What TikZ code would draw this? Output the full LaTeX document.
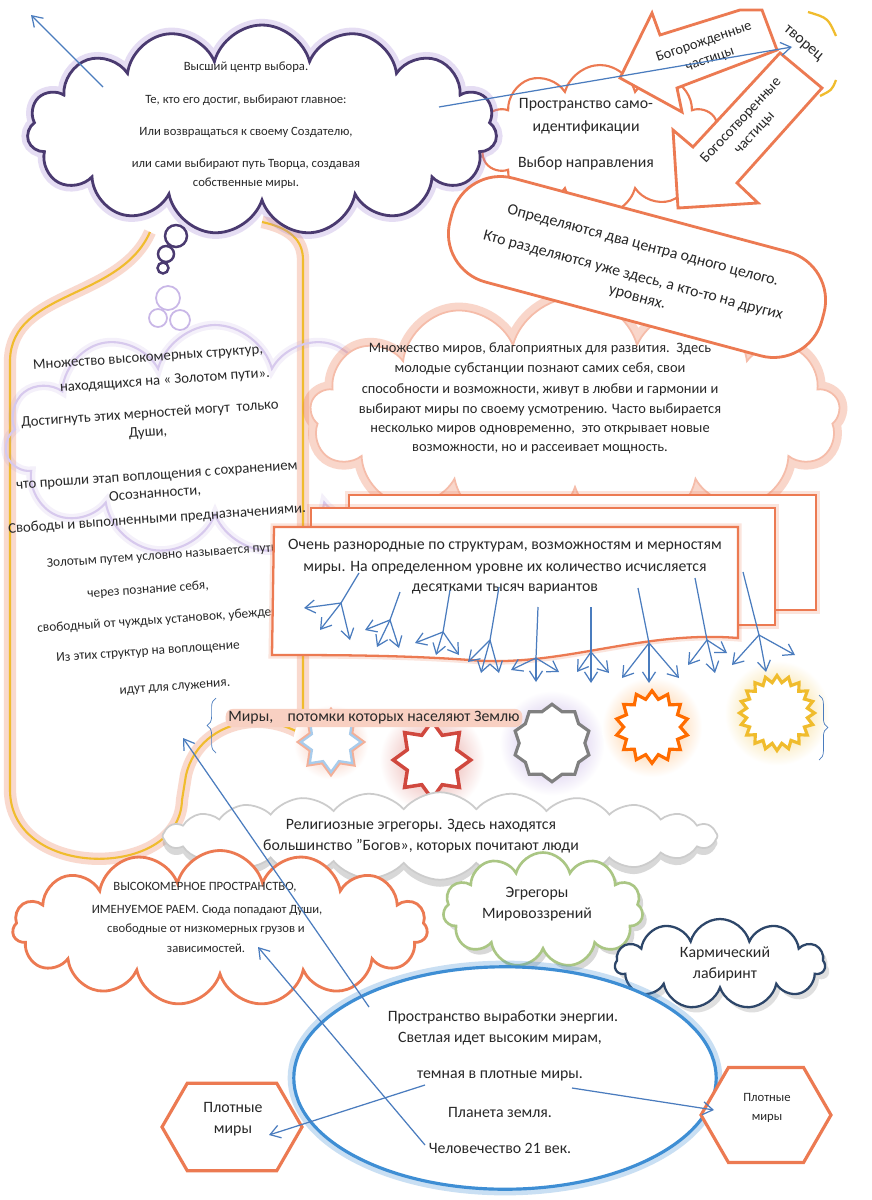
\documentclass[tikz,border=0pt]{standalone}
\usepackage{fontspec}
\setmainfont{Carlito}
\usetikzlibrary{shapes.symbols,shapes.geometric,arrows.meta,shadows,decorations.pathreplacing}

\definecolor{naranja}{RGB}{236,122,82}
\definecolor{morado}{RGB}{74,58,112}
\definecolor{lila}{RGB}{165,135,215}
\definecolor{amarillo}{RGB}{240,188,45}
\definecolor{azul}{RGB}{74,124,190}
\definecolor{celeste}{RGB}{62,142,212}
\definecolor{verde}{RGB}{170,198,132}
\definecolor{marino}{RGB}{45,70,105}
\definecolor{rojo}{RGB}{208,72,62}
\definecolor{tinta}{RGB}{40,40,40}

\tikzset{
  glow/.style={preaction={draw=#1,line width=7pt,opacity=.28}},
  nube/.style={cloud, cloud ignores aspect, fill=white},
  txt/.style={inner sep=0pt, align=center, text=tinta, font=\fontsize{9}{11}\selectfont},
  chico/.style={txt, font=\fontsize{7.2}{8.5}\selectfont},
  izq/.style={txt, rotate=4, font=\fontsize{8.4}{10}\selectfont},
  flecha/.style={azul, line width=.7pt},
  bloque/.style={draw=naranja, line width=1.6pt, fill=white, line join=miter},
  hexa/.style={signal, signal to=east and west, signal pointer angle=120,
               draw=naranja, line width=1.8pt, fill=white},
}

\begin{document}
\begin{tikzpicture}[x=0.02cm, y=-0.02cm, >={Straight Barb[length=2mm,width=2.6mm]}]
    %marco
    \fill[white] (0,0) rectangle (872,1200);
    \useasboundingbox (0,0) rectangle (872,1200);

    %%%% tubo amarillo
    \draw[amarillo, line width=1.2pt, glow=naranja] (150,232) .. controls (120,300) and (12,290) .. (10,360) -- (10,790)
        .. controls (10,880) and (180,880) .. (182,800) -- (186,775)
        .. controls (200,715) and (285,700) .. (330,760);
    \draw[amarillo, line width=1.2pt, glow=naranja] (262,222) .. controls (290,228) and (303,240) .. (303,260) -- (303,722);

    %%%% nube lila (izquierda)
    \node[cloud, cloud ignores aspect, cloud puffs=11, draw=lila!45, line width=1.2pt,
          preaction={draw=lila, line width=5pt, opacity=.12},
          minimum width=8.4cm, minimum height=4.6cm] (lila) at (215,440) {};
    \draw[lila!60, line width=1pt] (168,298) circle (0.24cm);
    \draw[lila!60, line width=1pt] (180,320) circle (0.2cm);
    \draw[lila!60, line width=1pt] (158,318) circle (0.18cm);

    %textos de la izquierda
    \node[izq] (l1) at (148,358) {Множество высокомерных структур,};
    \node[izq] (l2) at (165,381) {находящихся на « Золотом пути».};
    \node[izq] (l3) at (150,414) {Достигнуть этих мерностей могут\ \ только};
    \node[izq] (l4) at (148,433) {Души,};
    \node[izq] (l5) at (157,477) {что прошли этап воплощения с сохранением};
    \node[izq] (l6) at (155,494) {Осознанности,};
    \node[izq] (l7) at (157,519) {Свободы и выполненными предназначениями.};
    \node[izq, font=\fontsize{7.6}{9}\selectfont] (l8) at (162,556) {Золотым путем условно называется путь};
    \node[izq, font=\fontsize{7.6}{9}\selectfont] (l9) at (148,590) {через познание себя,};
    \node[izq, font=\fontsize{7.6}{9}\selectfont] (l10) at (165,620) {свободный от чуждых установок, убеждений};
    \node[izq, font=\fontsize{7.6}{9}\selectfont] (l11) at (148,652) {Из этих структур на воплощение};
    \node[izq, font=\fontsize{7.6}{9}\selectfont] (l12) at (175,688) {идут для служения.};

    %%%% nube grande naranja
    \node[nube, cloud puffs=13, draw=naranja!50, line width=1pt, preaction={draw=naranja, line width=9pt, opacity=.3},
          minimum width=10.6cm, minimum height=4.7cm] (miros) at (575,415) {};
    \node[chico, font=\fontsize{8.2}{10}\selectfont] (m1) at (540,349) {Множество миров, благоприятных для развития.\ \ Здесь};
    \node[chico, font=\fontsize{8.2}{10}\selectfont] (m2) at (540,369) {молодые субстанции познают самих себя, свои};
    \node[chico, font=\fontsize{8.2}{10}\selectfont] (m3) at (540,390) {способности и возможности, живут в любви и гармонии и};
    \node[chico, font=\fontsize{8.2}{10}\selectfont] (m4) at (540,410) {выбирают миры по своему усмотрению. Часто выбирается};
    \node[chico, font=\fontsize{8.2}{10}\selectfont] (m5) at (540,430) {несколько миров одновременно,\ \ это открывает новые};
    \node[chico, font=\fontsize{8.2}{10}\selectfont] (m6) at (540,449) {возможности, но и рассеивает мощность.};

    %%%% rectangulos
    \draw[bloque, line width=1.3pt, preaction={draw=naranja, line width=4pt, opacity=.2}] (349,495) rectangle (816,610);
    \draw[bloque, line width=1.3pt, preaction={draw=naranja, line width=4pt, opacity=.2}] (311,508) rectangle (775,625);
    \draw[bloque, line width=1.3pt, preaction={draw=naranja, line width=4pt, opacity=.2}] (274,527) -- (738,527) -- (738,638)
        .. controls (640,630) and (560,668) .. (470,660) .. controls (400,655) and (330,655) .. (272,655) -- cycle;
    \node[txt] (r1) at (505,546) {Очень разнородные по структурам, возможностям и мерностям};
    \node[txt] (r2) at (505,568) {миры. На определенном уровне их количество исчисляется};
    \node[txt] (r3) at (505,589) {десятками тысяч вариантов};

    %%%% estrellas
    \shade[inner color=naranja!55, outer color=white] (331,742) circle (0.75cm);
    \node[star, star points=8, star point ratio=1.45, minimum size=1.2cm, draw=celeste!45, line width=1.3pt,
          fill=white, preaction={draw=naranja!60, line width=3.5pt}] (mir1) at (331,742) {};
    \shade[inner color=rojo!55, outer color=white] (432,760) circle (1.05cm);
    \node[star, star points=8, star point ratio=1.45, minimum size=1.55cm, draw=rojo, line width=2pt, fill=white] (mir2) at (432,760) {};
    \shade[inner color=lila!70, outer color=white] (552,743) circle (1.05cm);
    \node[star, star points=10, star point ratio=1.18, minimum size=1.55cm, draw=gray, line width=1.8pt, fill=white] (mir3) at (552,743) {};
    \shade[inner color=orange!55, outer color=white] (652,727) circle (1cm);
    \node[star, star points=14, star point ratio=1.28, minimum size=1.45cm, draw=orange!85!red, line width=1.8pt, fill=white] (mir4) at (652,727) {};
    \shade[inner color=amarillo!70, outer color=white] (777,713) circle (1.05cm);
    \node[star, star points=20, star point ratio=1.22, minimum size=1.5cm, draw=amarillo, line width=1.8pt, fill=white] (mir5) at (777,713) {};

    %ramas
    \foreach \sx/\sy/\bx/\by/\ax/\ay/\cx/\cy/\dx/\dy in {
        359/573/341/603/304/608/320/630/350/640,
        400/592/390/620/365/630/377/647/399/648,
        450/590/443/632/415/643/436/655/459/655,
        499/587/490/640/468/662/481/673/499/673,
        538/607/536/658/511/670/536/682/559/672,
        591/607/591/652/577/672/591/683/609/673,
        638/588/649/643/622/678/649/683/679/678,
        695/578/707/640/688/665/715/673/727/653,
        743/572/759/635/732/665/766/672/795/655}
    {
        \draw[flecha] (\sx,\sy) -- (\bx,\by);
        \draw[flecha,->] (\bx,\by) -- (\ax,\ay);
        \draw[flecha,->] (\bx,\by) -- (\cx,\cy);
        \draw[flecha,->] (\bx,\by) -- (\dx,\dy);
    }

    \node[txt, fill=naranja!35, rounded corners=4pt, inner sep=1.5pt] (potomki) at (374,718) {Миры,\ \ \ \ потомки которых населяют Землю};
    \draw[azul, decorate, decoration={brace, amplitude=5pt}] (216,753) -- (216,698);
    \draw[azul, decorate, decoration={brace, amplitude=5pt}] (819,695) -- (819,760);

    %%%% nube de auto-identificacion y flechas grandes
    \node[nube, cloud puffs=10, draw=naranja, line width=1.2pt, minimum width=4.8cm, minimum height=3cm] (samo) at (600,140) {};
    \draw[amarillo, line width=1.3pt] (808,12) .. controls (828,18) .. (836,36);
    \draw[amarillo, line width=1.3pt] (836,80) .. controls (832,90) .. (820,96);
    \draw[bloque] (780,53) -- (693,147) -- (673,130) -- (678,208) -- (758,203) -- (737,183) -- (822,88) -- cycle;
    \draw[bloque] (620,78) -- (652,13) -- (660,35) -- (740,10) -- (762,10) -- (777,50) -- (677,88) -- (682,112) -- cycle;
    \node[txt, rotate=19, font=\fontsize{8.2}{9.5}\selectfont] (bogorozh) at (707,51) {Богорожденные\\[1pt]частицы};
    \node[txt, rotate=47, font=\fontsize{8.4}{9.5}\selectfont] (bogosotv) at (748,127) {Богосотворенные\\[1pt]частицы};
    \node[txt, rotate=-40] (tvorec) at (803,44) {творец};
    \node[txt] (samo1) at (586,105) {Пространство само-};
    \node[txt] (samo2) at (586,127) {идентификации};
    \node[txt] (samo3) at (586,163) {Выбор направления};

    %%%% nube morada
    \node[nube, cloud puffs=15, draw=morado, line width=1.6pt, glow=lila,
          minimum width=9.4cm, minimum height=4.2cm] (vybor) at (262,130) {};
    \draw[morado, line width=1.4pt, fill=white] (176,236) circle (0.22cm);
    \draw[morado, line width=1.4pt, fill=white] (166,254) circle (0.16cm);
    \draw[morado, line width=1.4pt, fill=white] (163,268) circle (0.11cm);
    \node[chico] (v1) at (246,67) {Высший центр выбора.};
    \node[chico] (v2) at (246,100) {Те, кто его достиг, выбирают главное:};
    \node[chico] (v3) at (246,132) {Или возвращаться к своему Создателю,};
    \node[chico] (v4) at (246,164) {или сами выбирают путь Творца, создавая};
    \node[chico] (v5) at (246,183) {собственные миры.};

    %%%% rectangulo redondeado
    \node[draw=naranja, line width=1.6pt, fill=white, rounded corners=1cm, rotate=-15,
          minimum width=7.7cm, minimum height=2.15cm] (centros) at (637,267) {};
    \node[txt, rotate=-15] (c1) at (643,246) {Определяются два центра одного целого.};
    \node[txt, rotate=-15] (c2) at (633,276) {Кто разделяются уже здесь, а кто-то на других};
    \node[txt, rotate=-15] (c3) at (637,299) {уровнях.};

    %%%% nubes de abajo
    \node[nube, cloud puffs=24, cloud puff arc=100, draw=gray!40, line width=1pt,
          drop shadow={opacity=.3, shadow yshift=-4pt, shadow xshift=0pt},
          minimum width=11.1cm, minimum height=1.75cm] (religia) at (440,836) {};
    \node[txt] (rel1) at (421,826) {Религиозные эгрегоры. Здесь находятся};
    \node[txt] (rel2) at (421,846) {большинство "Богов», которых почитают люди};

    \node[nube, cloud puffs=15, draw=naranja, line width=1.6pt, minimum width=8.3cm, minimum height=3.1cm] (raem) at (220,928) {};
    \node[chico] (ra1) at (205,887) {ВЫСОКОМЕРНОЕ ПРОСТРАНСТВО,};
    \node[chico] (ra2) at (207,910) {ИМЕНУЕМОЕ РАЕМ. Сюда попадают Души,};
    \node[chico] (ra3) at (206,929) {свободные от низкомерных грузов и};
    \node[chico] (ra4) at (206,948) {зависимостей.};

    \node[nube, cloud puffs=11, draw=verde, line width=1.5pt, drop shadow={opacity=.3, shadow yshift=-3pt},
          minimum width=4cm, minimum height=2.3cm] (egregory) at (543,910) {};
    \node[txt] (eg) at (537,904) {Эгрегоры\\[1pt]Мировоззрений};

    \node[nube, cloud puffs=11, draw=marino, line width=1.3pt, drop shadow={opacity=.25, shadow yshift=-3pt},
          minimum width=4.2cm, minimum height=1.8cm] (karma) at (720,964) {};
    \node[txt] (ka) at (725,964) {Кармический\\[1pt]лабиринт};

    %%%% planeta
    \node[ellipse, draw=celeste, line width=1.8pt, fill=white, glow=celeste,
          minimum width=8.45cm, minimum height=4.45cm] (planeta) at (505,1078) {};
    \node[txt] (p1) at (503,1017) {Пространство выработки энергии.};
    \node[txt] (p2) at (500,1039) {Светлая идет высоким мирам,};
    \node[txt] (p3) at (500,1076) {темная в плотные миры.};
    \node[txt] (p4) at (500,1112) {Планета земля.};
    \node[txt] (p5) at (500,1148) {Человечество 21 век.};

    \node[hexa, minimum width=2.8cm, minimum height=1.75cm] (plotnye1) at (232,1127) {};
    \node[txt] (pl1) at (233,1119) {Плотные\\[1pt]миры};
    \node[hexa, minimum width=2.6cm, minimum height=1.9cm] (plotnye2) at (766,1115) {};
    \node[chico] (pl2) at (767,1108) {Плотные\\[2pt]миры};

    %%%% flechas azules
    \coordinate (a1s) at (103,87);   \coordinate (a1t) at (31,15);
    \coordinate (a2s) at (439,107);  \coordinate (a2t) at (792,47);
    \coordinate (a3s) at (369,1007); \coordinate (a3t) at (183,738);
    \coordinate (a4s) at (425,1145); \coordinate (a4t) at (258,947);
    \coordinate (a5s) at (425,1085); \coordinate (a5t) at (269,1135);
    \coordinate (a6s) at (572,1088); \coordinate (a6t) at (714,1110);
    \draw[flecha,->] (a1s) -- (a1t);
    \draw[flecha,->] (a2s) -- (a2t);
    \draw[flecha,->] (a3s) -- (a3t);
    \draw[flecha,->] (a4s) -- (a4t);
    \draw[flecha,->] (a5s) -- (a5t);
    \draw[flecha,->] (a6s) -- (a6t);
\end{tikzpicture}
\end{document}
